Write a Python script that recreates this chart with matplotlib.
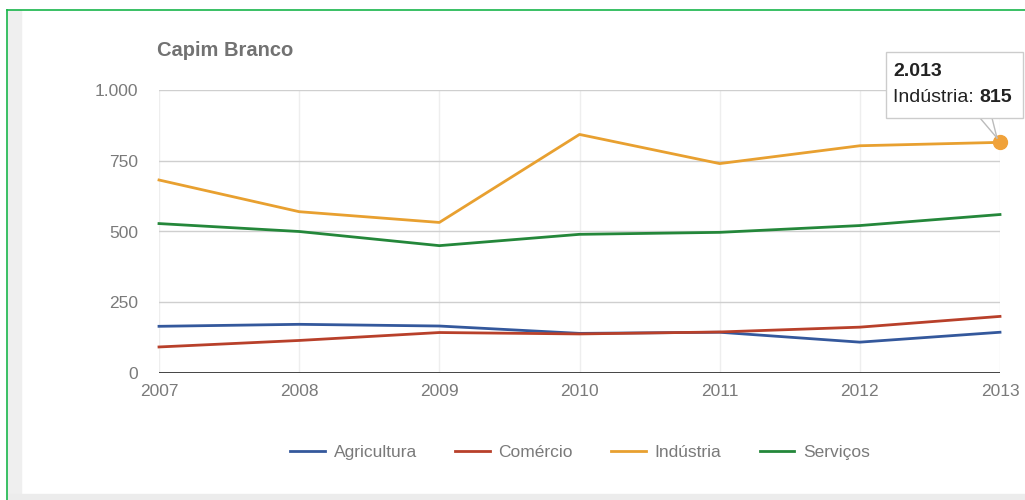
import matplotlib
matplotlib.use('Agg')
import matplotlib.pyplot as plt
from matplotlib.patches import Rectangle
from matplotlib.lines import Line2D

plt.rcParams['font.family'] = ['Liberation Sans', 'DejaVu Sans']

anos = [2007, 2008, 2009, 2010, 2011, 2012, 2013]
agricultura = [165, 172, 166, 140, 144, 109, 144]
comercio = [92, 115, 143, 138, 145, 162, 200]
industria = [682, 570, 532, 843, 740, 803, 815]
servicos = [528, 500, 450, 490, 497, 521, 560]

series = [
    ('Agricultura', agricultura, '#34589c'),
    ('Comércio', comercio, '#b8402a'),
    ('Indústria', industria, '#e8a030'),
    ('Serviços', servicos, '#24873a'),
]
y_ticks = [0, 250, 500, 750, 1000]
y_labels = ['0', '250', '500', '750', '1.000']

W, H = 1025, 500
fig = plt.figure(figsize=(W / 100, H / 100), dpi=100)

# moldura da captura: borda verde e faixas cinza
fig.patches.append(Rectangle((8 / W, 0), 13 / W, 1 - 10 / H, transform=fig.transFigure,
                             color='#efefef', zorder=0))
fig.patches.append(Rectangle((8 / W, 0), 1, 6 / H, transform=fig.transFigure,
                             color='#ececec', zorder=0))
fig.lines.append(Line2D([7 / W, 1], [1 - 10 / H, 1 - 10 / H], transform=fig.transFigure,
                        color='#18b54a', lw=1.2))
fig.lines.append(Line2D([7 / W, 7 / W], [0, 1 - 10 / H], transform=fig.transFigure,
                        color='#18b54a', lw=1.2))

ax = fig.add_axes([159 / W, (H - 373) / H, (1000 - 159) / W, (373 - 90) / H])
ax.set_xlim(2007, 2013)
ax.set_ylim(0, 1000)
for s in ax.spines.values():
    s.set_visible(False)

ax.set_yticks(y_ticks)
ax.set_yticklabels(y_labels)
ax.set_xticks(anos)
ax.tick_params(length=0, colors='#7a7a7a', labelsize=12.5)
ax.tick_params(axis='y', pad=15)
ax.tick_params(axis='x', pad=8)
for v in y_ticks[1:]:
    ax.axhline(v, color='#cfcfcf', lw=1, zorder=1)
for a in anos:
    ax.axvline(a, color='#eeeeee', lw=1, zorder=0.5)
ax.axhline(0, color='#333333', lw=2, zorder=3)

handles = []
for nome, valores, cor in series:
    ln, = ax.plot(anos, valores, color=cor, lw=2, label=nome, zorder=4, clip_on=False,
                  solid_joinstyle='round')
    handles.append(ln)

# ponto destacado e tooltip
ax.plot(anos[-1], industria[-1], 'o', color='#f0a23a', ms=10, zorder=6, clip_on=False)
tx, ty = 886 / W, 1 - 118 / H
fig.patches.append(Rectangle((tx, ty), 137 / W, 66 / H, transform=fig.transFigure,
                             facecolor='white', edgecolor='#cccccc', lw=1, zorder=10))
fig.text(893 / W, 1 - 72 / H, '2.013', fontsize=14, fontweight='bold', color='#222222',
         va='center', zorder=11)
t1 = fig.text(893 / W, 1 - 98 / H, 'Indústria: ', fontsize=14, color='#222222',
              va='center', zorder=11)
fig.canvas.draw()
bb = t1.get_window_extent()
fig.text(bb.x1 / W, 1 - 98 / H, str(industria[-1]), fontsize=14, fontweight='bold',
         color='#222222', va='center', zorder=11)
fig.lines.append(Line2D([980 / W, 997 / W], [ty, 1 - 138 / H], transform=fig.transFigure,
                        color='#bbbbbb', lw=1, zorder=9))
fig.lines.append(Line2D([992 / W, 997 / W], [ty, 1 - 138 / H], transform=fig.transFigure,
                        color='#bbbbbb', lw=1, zorder=9))

fig.text(157 / W, 1 - 50 / H, 'Capim Branco', fontsize=14.5, fontweight='bold',
         color='#727272', va='center')

leg = ax.legend(handles=handles, loc='center', bbox_to_anchor=(580 / W, 1 - 452 / H),
                bbox_transform=fig.transFigure, ncol=4, frameon=False, fontsize=12.5,
                handlelength=2.0, handletextpad=0.5, columnspacing=2.2)
for t in leg.get_texts():
    t.set_color('#7a7a7a')

fig.savefig('out.png', dpi=100, facecolor='white')
